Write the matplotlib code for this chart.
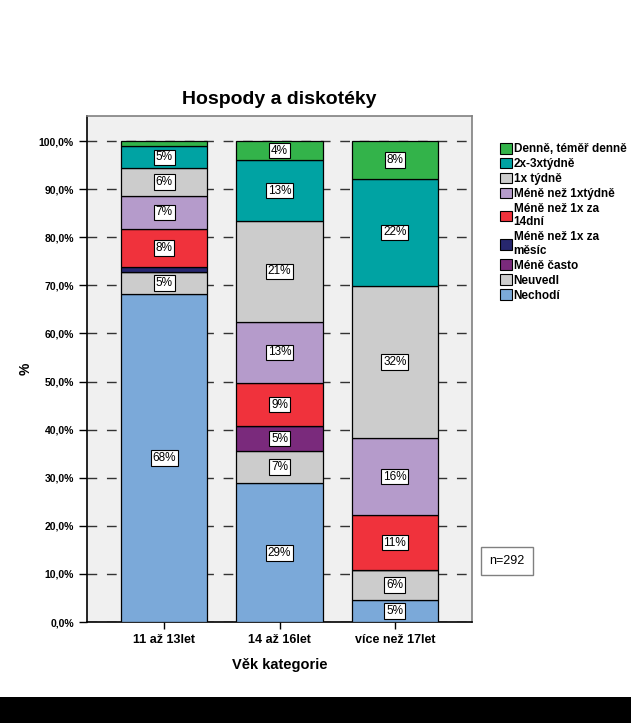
import matplotlib.pyplot as plt
import numpy as np
from matplotlib.patches import Rectangle, Patch

plt.rcParams['font.family'] = ['Liberation Sans', 'DejaVu Sans']

# data (procenta, odspodu nahoru)
kategorie = ["11 až 13let", "14 až 16let", "více než 17let"]
odpovedi = ["Nechodí", "Neuvedl", "Méně často", "Méně než 1x za\nměsíc",
            "Méně než 1x za\n14dní", "Méně než 1xtýdně", "1x týdně",
            "2x-3xtýdně", "Denně, téměř denně"]
nechodi = [68.2, 28.8, 4.6]
neuvedl = [4.6, 6.8, 6.2]
mene_casto = [0.0, 5.1, 0.0]
mene_mesic = [1.0, 0.0, 0.0]
mene_14dni = [7.9, 9.0, 11.4]
mene_tyden = [6.9, 12.7, 16.1]
tydne_1x = [5.7, 21.0, 31.6]
tydne_23x = [4.6, 12.6, 22.2]
denne = [1.1, 4.0, 7.9]
serie = [nechodi, neuvedl, mene_casto, mene_mesic, mene_14dni,
         mene_tyden, tydne_1x, tydne_23x, denne]
barvy = ["#7BA9D9", "#CCCCCC", "#7A2A7C", "#27276E", "#F0323C",
         "#B59BCB", "#CCCCCC", "#00A3A3", "#33B34A"]
yticks = np.arange(0, 101, 10)
yticklabels = ["%d,0%%" % v for v in yticks]

fig = plt.figure(figsize=(6.31, 7.23), dpi=100)
ax = fig.add_axes([87/631, 101/723, 385/631, 506/723])
ax.set_facecolor("#F0F0F0")

x = np.arange(len(kategorie))
bottom = np.zeros(len(kategorie))
for vals, c in zip(serie, barvy):
    vals = np.array(vals)
    ax.bar(x, vals, 0.75, bottom=bottom, color=c, edgecolor="black",
           linewidth=0.9, zorder=3)
    for xi, b, v in zip(x, bottom, vals):
        if v >= 3:
            ax.text(xi, b + v/2, "%d%%" % int(v + 0.5), ha="center",
                    va="center", fontsize=8.5, zorder=4,
                    bbox=dict(boxstyle="square,pad=0.15", fc="white",
                              ec="black", lw=0.8))
    bottom += vals

ax.set_xlim(-0.67, 2.67)
ax.set_ylim(0, 105.2)
ax.set_yticks(yticks)
ax.set_yticklabels(yticklabels, fontsize=7.5, fontweight="bold")
ax.set_xticks(x)
ax.set_xticklabels(kategorie, fontsize=9, fontweight="bold")
ax.tick_params(axis="y", length=6, width=1)
ax.tick_params(axis="x", length=5, width=1)
ax.yaxis.grid(True, linestyle=(0, (7, 7)), color="#333333", linewidth=1,
              zorder=1)
for s in ["top", "right"]:
    ax.spines[s].set_color("#808080")
    ax.spines[s].set_linewidth(1.2)
ax.spines["left"].set_linewidth(1.2)
ax.spines["bottom"].set_linewidth(1.2)

ax.set_title("Hospody a diskotéky", fontsize=14, fontweight="bold", pad=9)
ax.set_xlabel("Věk kategorie", fontsize=10.5, fontweight="bold", labelpad=9)
ax.set_ylabel("%", fontsize=10, fontweight="bold", labelpad=4)

handles = [Patch(facecolor=c, edgecolor="black", linewidth=0.8, label=l)
           for c, l in zip(barvy, odpovedi)][::-1]
fig.legend(handles=handles, loc="upper left",
           bbox_to_anchor=(500/631, 1 - 143/723), frameon=False,
           prop={"size": 8.5, "weight": "bold"}, handlelength=1.0,
           handleheight=1.0, handletextpad=0.15, labelspacing=0.22,
           borderpad=0, borderaxespad=0)

fig.text(507/631, 1 - 561/723, "n=292", ha="center", va="center", fontsize=9,
         bbox=dict(boxstyle="square,pad=0.65", fc="white", ec="#808080", lw=1))

fig.patches.append(Rectangle((0, 0), 1, 26/723, transform=fig.transFigure,
                             facecolor="black", edgecolor="none"))

fig.savefig("out.png", dpi=100)
